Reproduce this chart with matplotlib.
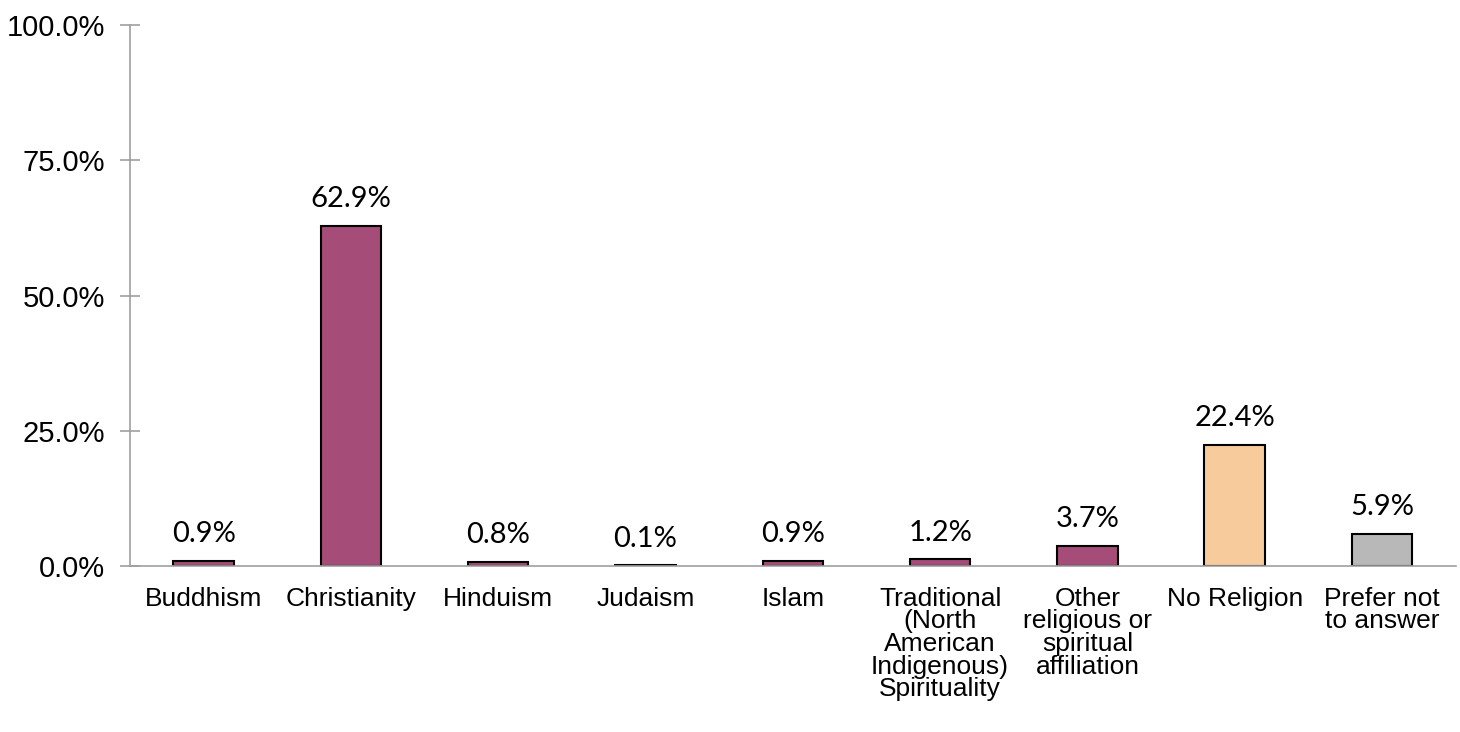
import matplotlib.pyplot as plt
from matplotlib.ticker import FuncFormatter

categories = ["Buddhism", "Christianity", "Hinduism", "Judaism", "Islam",
              "Traditional\n(North\nAmerican\nIndigenous)\nSpirituality",
              "Other\nreligious or\nspiritual\naffiliation",
              "No Religion", "Prefer not\nto answer"]
values = [0.9, 62.9, 0.8, 0.1, 0.9, 1.2, 3.7, 22.4, 5.9]
colors = ["#A54C78"] * 7 + ["#F8CB9C", "#B8B8B8"]

fig = plt.figure(figsize=(14.6, 7.32), dpi=100)
ax = fig.add_axes([0.089, 0.2268, 0.908, 0.739])

x = range(len(categories))
bars = ax.bar(x, values, width=0.41, color=colors, edgecolor="black", linewidth=1.5, zorder=2)

for xi, v in zip(x, values):
    ax.annotate(f"{v:.1f}%", (xi, v), xytext=(0, 10), textcoords="offset points",
                ha="center", va="bottom", fontsize=21, family="Lato")

ax.set_xlim(-0.5, len(categories) - 0.5)
ax.set_ylim(0, 100)
ax.set_yticks([0, 25, 50, 75, 100])
ax.yaxis.set_major_formatter(FuncFormatter(lambda v, p: f"{v:.1f}%"))
ax.set_xticks(list(x))
ax.set_xticklabels(categories, fontsize=19, family="Liberation Sans", linespacing=0.93)
ax.tick_params(axis="x", length=0, pad=15)
ax.tick_params(axis="y", direction="inout", length=14, width=1.2, color="#A0A0A0",
               labelsize=21, pad=11)
for lbl in ax.get_yticklabels():
    lbl.set_family("Liberation Sans")

for s in ["top", "right"]:
    ax.spines[s].set_visible(False)
for s in ["left", "bottom"]:
    ax.spines[s].set_color("#A0A0A0")
    ax.spines[s].set_linewidth(1.2)

fig.savefig("out.png", dpi=100)
